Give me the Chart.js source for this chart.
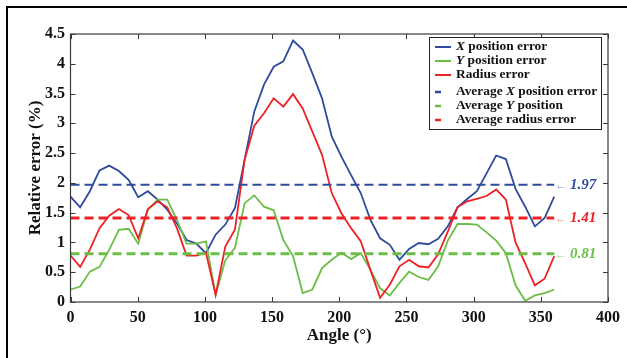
<!DOCTYPE html>
<html><head><meta charset="utf-8">
<script src="https://cdn.jsdelivr.net/npm/chart.js@4/dist/chart.umd.min.js"></script>
<style>html,body{margin:0;padding:0;background:#fff}#wrap{width:627px;height:358px;position:relative}</style>
</head><body><div id="wrap"><canvas id="c" width="627" height="358"></canvas></div>
<script>
const angles = [0,7.2,14.4,21.6,28.8,36,43.2,50.4,57.6,64.8,72,79.2,86.4,93.6,100.8,108,115.2,122.4,129.6,136.8,144,151.2,158.4,165.6,172.8,180,187.2,194.4,201.6,208.8,216,223.2,230.4,237.6,244.8,252,259.2,266.4,273.6,280.8,288,295.2,302.4,309.6,316.8,324,331.2,338.4,345.6,352.8,360];
const xError = [1.77,1.59,1.86,2.21,2.29,2.20,2.05,1.76,1.86,1.72,1.55,1.32,1.04,0.98,0.82,1.13,1.30,1.58,2.39,3.20,3.65,3.95,4.04,4.39,4.24,3.84,3.42,2.78,2.44,2.13,1.83,1.38,1.07,0.96,0.71,0.89,0.99,0.97,1.06,1.27,1.59,1.73,1.86,2.16,2.46,2.40,1.90,1.60,1.27,1.41,1.77];
const yError = [0.21,0.26,0.51,0.59,0.88,1.21,1.23,0.98,1.55,1.72,1.72,1.38,0.98,0.98,1.02,0.12,0.70,0.91,1.66,1.79,1.60,1.54,1.04,0.77,0.15,0.21,0.57,0.71,0.83,0.72,0.82,0.54,0.23,0.11,0.32,0.51,0.42,0.37,0.60,1.03,1.31,1.31,1.30,1.17,1.03,0.82,0.28,0.02,0.11,0.15,0.21];
const radiusError = [0.78,0.59,0.88,1.24,1.45,1.56,1.46,1.07,1.56,1.69,1.59,1.24,0.78,0.78,0.83,0.12,0.93,1.22,2.39,2.96,3.17,3.42,3.28,3.49,3.25,2.86,2.47,1.83,1.49,1.24,1.02,0.54,0.07,0.29,0.60,0.71,0.60,0.58,0.80,1.18,1.59,1.69,1.73,1.78,1.89,1.72,1.00,0.65,0.28,0.39,0.77];
const avgX = 1.97, avgY = 0.81, avgR = 1.41;
const avgRange = [0, 360];
const xTicks = [0,50,100,150,200,250,300,350,400];
const yTicks = [0,0.5,1,1.5,2,2.5,3,3.5,4,4.5];
const yTickLabels = ['0','0.5','1','1.5','2','2.5','3','3.5','4','4.5'];
const legendRows = [
  [['X',true],[' position error',false]],
  [['Y',true],[' position error',false]],
  [['Radius error',false]],
  [['Average ',false],['X',true],[' position error',false]],
  [['Average ',false],['Y',true],[' position',false]],
  [['Average radius error',false]]
];

const BLUE='#2e4b9c', GREEN='#6cbd45', RED='#ec2227';
const SERIF="'Liberation Serif','Times New Roman',serif";
const pts = arr => arr.map((v,i)=>({x:angles[i],y:v}));
const flat = v => avgRange.map(a=>({x:a,y:v}));

const overlay = {
  id:'overlay',
  afterDraw(chart){
    const {ctx, chartArea:a, scales:{x,y}} = chart;
    ctx.save();
    const line=(x1,y1,x2,y2)=>{ctx.beginPath();ctx.moveTo(x1,y1);ctx.lineTo(x2,y2);ctx.stroke();};
    // outer frame
    ctx.strokeStyle='#000'; ctx.lineWidth=2;
    ctx.beginPath(); ctx.moveTo(627,7); ctx.lineTo(7,7); ctx.lineTo(7,358); ctx.stroke();
    // axes box
    ctx.strokeStyle='#3a3a3a'; ctx.lineWidth=1.2;
    ctx.strokeRect(a.left,a.top,a.right-a.left,a.bottom-a.top);
    ctx.lineWidth=1;
    xTicks.forEach(v=>{const px=Math.round(x.getPixelForValue(v))+0.5; line(px,a.bottom,px,a.bottom-5); line(px,a.top,px,a.top+5);});
    yTicks.forEach(v=>{const py=Math.round(y.getPixelForValue(v))+0.5; line(a.left,py,a.left+5,py); line(a.right,py,a.right-5,py);});
    // legend
    ctx.fillStyle='#fff'; ctx.fillRect(429.5,37.5,172,92);
    ctx.strokeStyle='#222'; ctx.lineWidth=1; ctx.strokeRect(429.5,37.5,172,92);
    const rowY=[47,61,75,92,106,120];
    const cols=[BLUE,GREEN,RED,BLUE,GREEN,RED];
    ctx.textBaseline='middle'; ctx.textAlign='left';
    legendRows.forEach((row,i)=>{
      ctx.strokeStyle=cols[i]; ctx.lineWidth= i<3?2:2.5;
      line(435,rowY[i], i<3?451:441, rowY[i]);
      let tx=456;
      row.forEach(([t,it])=>{
        ctx.font=(it?'italic ':'')+'bold 13.4px '+SERIF;
        ctx.fillStyle='#111';
        ctx.fillText(t,tx,rowY[i]);
        tx+=ctx.measureText(t).width;
      });
    });
    // annotations
    [[avgX,BLUE,'#8797c9'],[avgR,RED,'#f08a8a'],[avgY,GREEN,'#a5d78f']].forEach(([v,c,lc])=>{
      const py=y.getPixelForValue(v);
      ctx.font='12px '+SERIF; ctx.fillStyle=lc; ctx.fillText('\u2190',555,py+1);
      ctx.font='italic bold 15px '+SERIF; ctx.fillStyle=c; ctx.fillText(v.toFixed(2),570,py);
    });
    ctx.restore();
  }
};

new Chart(document.getElementById('c'),{
  type:'scatter',
  data:{datasets:[
    {label:'X position error',data:pts(xError),borderColor:BLUE,order:3},
    {label:'Y position error',data:pts(yError),borderColor:GREEN,order:2},
    {label:'Radius error',data:pts(radiusError),borderColor:RED,order:1},
    {label:'Average X position error',data:flat(avgX),borderColor:BLUE,borderDash:[9,5],borderWidth:2,order:0},
    {label:'Average Y position',data:flat(avgY),borderColor:GREEN,borderDash:[9,5],borderWidth:3,order:0},
    {label:'Average radius error',data:flat(avgR),borderColor:RED,borderDash:[9,5],borderWidth:3,order:0}
  ]},
  options:{
    responsive:false, animation:false, devicePixelRatio:1,
    layout:{padding:{left:0,right:19,top:34,bottom:0}},
    datasets:{scatter:{showLine:true,pointRadius:0,borderWidth:1.8,tension:0}},
    elements:{point:{radius:0}},
    plugins:{legend:{display:false},tooltip:{enabled:false}},
    scales:{
      x:{type:'linear',min:0,max:400,
        afterBuildTicks:s=>{s.ticks=xTicks.map(v=>({value:v}));},
        afterFit:s=>{s.height=56;},
        grid:{display:false,drawTicks:false},border:{display:false},
        ticks:{padding:6,color:'#111',font:{family:SERIF,weight:'bold',size:16},maxRotation:0,callback:v=>String(v)},
        title:{display:true,text:'Angle (°)',color:'#111',font:{family:SERIF,weight:'bold',size:17},padding:{top:0,bottom:12}}
      },
      y:{type:'linear',min:0,max:4.5,
        afterBuildTicks:s=>{s.ticks=yTicks.map(v=>({value:v}));},
        afterFit:s=>{s.width=70.5;},
        grid:{display:false,drawTicks:false},border:{display:false},
        ticks:{padding:5.5,color:'#111',font:{family:SERIF,weight:'bold',size:16},callback:(v)=>yTickLabels[yTicks.indexOf(v)]},
        title:{display:true,text:'Relative error (%)',color:'#111',font:{family:SERIF,weight:'bold',size:17},padding:{top:25,bottom:0}}
      }
    }
  },
  plugins:[overlay]
});
</script></body></html>
